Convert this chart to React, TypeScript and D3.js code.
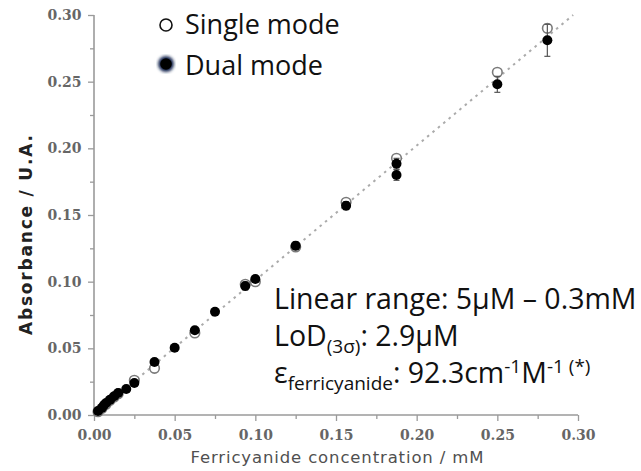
import { useEffect, useRef } from 'react';
import * as d3 from 'd3';

// Ferricyanide calibration (concentration mM, absorbance, error)
const dualX = [0.0025, 0.005, 0.00625, 0.0075, 0.01, 0.0125, 0.015, 0.02, 0.025, 0.0375, 0.05, 0.0625, 0.075, 0.09375, 0.1, 0.125, 0.15625, 0.1875, 0.1875, 0.25, 0.281];
const dualY = [0.003, 0.0055, 0.0075, 0.009, 0.0115, 0.014, 0.0165, 0.0195, 0.024, 0.0398, 0.0505, 0.0635, 0.0775, 0.0967, 0.102, 0.127, 0.157, 0.1885, 0.18, 0.248, 0.281];
const dualErr = [0.001, 0.001, 0.001, 0.001, 0.001, 0.001, 0.001, 0.001, 0.001, 0.002, 0.001, 0.002, 0.001, 0.003, 0.002, 0.003, 0.003, 0.004, 0.004, 0.006, 0.012];

const singleX = [0.0025, 0.005, 0.0075, 0.01, 0.0125, 0.015, 0.025, 0.0375, 0.0625, 0.09375, 0.1, 0.125, 0.15625, 0.1875, 0.25, 0.281];
const singleY = [0.0025, 0.005, 0.008, 0.011, 0.0135, 0.016, 0.026, 0.035, 0.0615, 0.098, 0.1, 0.126, 0.1595, 0.1925, 0.257, 0.29];
const singleErr = [0.001, 0.001, 0.001, 0.001, 0.001, 0.001, 0.001, 0.002, 0.002, 0.002, 0.002, 0.002, 0.002, 0.002, 0.002, 0.002];

const fitX = [0, 0.297];
const fitY = [0, 0.3];

const ticks = [0, 0.05, 0.1, 0.15, 0.2, 0.25, 0.3];
const minorTicks = [0.025, 0.075, 0.125, 0.175, 0.225, 0.275];

const W = 641;
const H = 471;

function App() {
  const svgRef = useRef<SVGSVGElement | null>(null);

  useEffect(() => {
    if (!svgRef.current) return;
    const svg = d3.select(svgRef.current);
    svg.selectAll('*').remove();

    const x = d3.scaleLinear().domain([0, 0.3]).range([94, 578]);
    const y = d3.scaleLinear().domain([0, 0.3]).range([415, 15]);

    const axisColor = '#9a9a9a';
    const labelFont = '"DejaVu Serif", serif';

    // axes
    const xAxis = svg.append('g').attr('transform', `translate(0,${y(0)})`);
    xAxis.call(d3.axisBottom(x).tickValues(ticks).tickSize(6).tickFormat(d3.format('.2f')) as any);
    xAxis.append('g').call(d3.axisBottom(x).tickValues(minorTicks).tickSize(4).tickFormat(() => '') as any);
    xAxis.selectAll('path.domain').remove();
    xAxis.append('line').attr('x1', x(0)).attr('x2', x(0.3)).attr('stroke', axisColor).attr('stroke-width', 1.6);

    const yAxis = svg.append('g').attr('transform', `translate(${x(0)},0)`);
    yAxis.call(d3.axisLeft(y).tickValues(ticks).tickSize(6).tickFormat(d3.format('.2f')) as any);
    yAxis.append('g').call(d3.axisLeft(y).tickValues(minorTicks).tickSize(4).tickFormat(() => '') as any);
    yAxis.selectAll('path.domain').remove();
    yAxis.append('line').attr('y1', y(0)).attr('y2', y(0.3)).attr('stroke', axisColor).attr('stroke-width', 1.6);

    svg.selectAll('.tick line').attr('stroke', axisColor).attr('stroke-width', 1.3);
    svg.selectAll('.tick text')
      .attr('fill', '#666')
      .attr('font-family', labelFont)
      .attr('font-weight', 'bold')
      .attr('font-size', 14);
    xAxis.selectAll('.tick text').attr('dy', '1.15em');
    yAxis.selectAll('.tick text').attr('dx', '-0.25em');

    // fit line
    svg.append('line')
      .attr('x1', x(fitX[0])).attr('y1', y(fitY[0]))
      .attr('x2', x(fitX[1])).attr('y2', y(fitY[1]))
      .attr('stroke', '#ababab')
      .attr('stroke-width', 2)
      .attr('stroke-dasharray', '2.5,4.5');

    const single = singleX.map((v, i) => ({ x: v, y: singleY[i], e: singleErr[i] }));
    const dual = dualX.map((v, i) => ({ x: v, y: dualY[i], e: dualErr[i] }));

    const errBars = (data: any[], color: string) => {
      const g = svg.append('g').attr('stroke', color).attr('stroke-width', 1.2);
      data.forEach((d) => {
        g.append('line').attr('x1', x(d.x)).attr('x2', x(d.x)).attr('y1', y(d.y - d.e)).attr('y2', y(d.y + d.e));
        g.append('line').attr('x1', x(d.x) - 3).attr('x2', x(d.x) + 3).attr('y1', y(d.y - d.e)).attr('y2', y(d.y - d.e));
        g.append('line').attr('x1', x(d.x) - 3).attr('x2', x(d.x) + 3).attr('y1', y(d.y + d.e)).attr('y2', y(d.y + d.e));
      });
    };

    errBars(single, '#8a8a8a');
    svg.append('g')
      .selectAll('circle')
      .data(single)
      .join('circle')
      .attr('cx', (d) => x(d.x))
      .attr('cy', (d) => y(d.y))
      .attr('r', 4.8)
      .attr('fill', '#fff')
      .attr('stroke', '#7a7a7a')
      .attr('stroke-width', 1.6);

    errBars(dual, '#555');
    svg.append('g')
      .selectAll('circle')
      .data(dual)
      .join('circle')
      .attr('cx', (d) => x(d.x))
      .attr('cy', (d) => y(d.y))
      .attr('r', 5)
      .attr('fill', '#000');

    // axis titles
    svg.append('text')
      .attr('x', 337)
      .attr('y', 463)
      .attr('text-anchor', 'middle')
      .attr('font-family', '"DejaVu Sans", sans-serif')
      .attr('font-size', 16.5)
      .attr('textLength', 293)
      .attr('fill', '#505050')
      .text('Ferricyanide concentration / mM');

    svg.append('text')
      .attr('transform', 'translate(32,235) rotate(-90)')
      .attr('text-anchor', 'middle')
      .attr('font-family', '"DejaVu Sans", sans-serif')
      .attr('font-weight', 'bold')
      .attr('font-size', 17)
      .attr('textLength', 200)
      .attr('fill', '#222')
      .text('Absorbance / U.A.');

    // legend
    const sans = '"Open Sans", sans-serif';
    const defs = svg.append('defs');
    defs.append('filter').attr('id', 'glow').append('feGaussianBlur').attr('stdDeviation', 1.6);

    svg.append('circle').attr('cx', 166).attr('cy', 25).attr('r', 6)
      .attr('fill', '#fff').attr('stroke', '#111').attr('stroke-width', 1.6);
    svg.append('text').attr('x', 185).attr('y', 34).attr('font-family', sans)
      .attr('font-size', 27).attr('fill', '#111').text('Single mode');

    svg.append('circle').attr('cx', 166).attr('cy', 64).attr('r', 8)
      .attr('fill', '#1b2c55').attr('filter', 'url(#glow)');
    svg.append('circle').attr('cx', 166).attr('cy', 64).attr('r', 5.8).attr('fill', '#000');
    svg.append('text').attr('x', 185).attr('y', 75).attr('font-family', sans)
      .attr('font-size', 27).attr('fill', '#111').text('Dual mode');

    // annotation
    const ann = svg.append('g').attr('font-family', sans).attr('fill', '#111');
    ann.append('text').attr('x', 274).attr('y', 309).attr('font-size', 28.5)
      .text('Linear range: 5\u03bcM \u2013 0.3mM');

    const lod = ann.append('text').attr('x', 274).attr('y', 346).attr('font-size', 28.5);
    lod.append('tspan').text('LoD');
    lod.append('tspan').attr('font-size', 19).attr('dy', 7).text('(3\u03c3)');
    lod.append('tspan').attr('dy', -7).text(': 2.9\u03bcM');

    const eps = ann.append('text').attr('x', 274).attr('y', 383).attr('font-size', 28.5);
    eps.append('tspan').text('\u03b5');
    eps.append('tspan').attr('font-size', 19).attr('dy', 7).text('ferricyanide');
    eps.append('tspan').attr('dy', -7).text(': 92.3cm');
    eps.append('tspan').attr('font-size', 19).attr('dy', -10).text('-1');
    eps.append('tspan').attr('dy', 10).text('M');
    eps.append('tspan').attr('font-size', 19).attr('dy', -10).text('-1 (*)');
  }, []);

  return (
    <svg
      ref={svgRef}
      width={W}
      height={H}
      style={{ position: 'absolute', left: 0, top: 0, background: '#fff' }}
    />
  );
}

export default App;
